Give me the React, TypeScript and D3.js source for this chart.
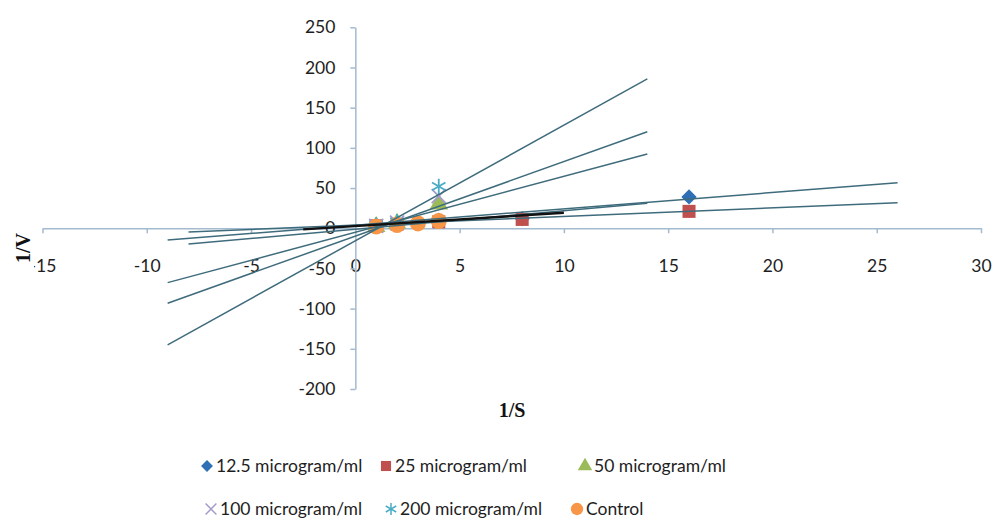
import React, { useEffect, useRef } from "react";
import * as d3 from "d3";

// series (1/S, 1/V)
const seriesNames = ["12.5 microgram/ml", "25 microgram/ml", "50 microgram/ml", "100 microgram/ml", "200 microgram/ml", "Control"];
const s12X = [1, 2, 4, 8, 16];
const s12Y = [4, 6, 10, 12, 39];
const s25X = [1, 2, 4, 8, 16];
const s25Y = [3, 5, 8, 11, 21];
const s50X = [1, 2, 4];
const s50Y = [2, 6, 30];
const s100X = [1, 2, 4];
const s100Y = [3, 7, 40];
const s200X = [1, 2, 4];
const s200Y = [4, 8, 52];
const ctrlX = [1, 2, 3, 4];
const ctrlY = [2, 4, 6, 9];

// trendlines: slope, intercept, forecast range
const trendSlope = [2.04, 1.07, 6.96, 9.27, 14.38, 2.3, 1.66];
const trendIntercept = [3.7, 3.9, -5.0, -9.8, -15.6, -1.2, 2.7];
const trendFrom = [-9, -8, -9, -9, -9, -8, -2.5];
const trendTo = [26, 26, 14, 14, 14, 14, 10];

const xTicks = [-15, -10, -5, 0, 5, 10, 15, 20, 25, 30];
const yTicks = [-200, -150, -100, -50, 0, 50, 100, 150, 200, 250];

const colors = ["#2f6fb5", "#c0504d", "#9bbb59", "#a39bc9", "#4bacc6", "#f79646"];
const trendColors = ["#3f6c7c", "#3f6c7c", "#3f6c7c", "#3f6c7c", "#3f6c7c", "#3f6c7c", "#111"];
const symbols = [d3.symbolDiamond2, d3.symbolSquare, d3.symbolTriangle, d3.symbolTimes, d3.symbolAsterisk, d3.symbolCircle];
const symSize = [150, 170, 150, 130, 170, 200];
const strokeSym = [false, false, false, true, true, false];

const font = "Lato, 'Open Sans', sans-serif";

const App = () => {
  const svgRef = useRef<SVGSVGElement>(null);

  useEffect(() => {
    const svg = d3.select(svgRef.current);
    svg.selectAll("*").remove();

    const x = d3.scaleLinear().domain([-15, 30]).range([42.5, 981]);
    const y = d3.scaleLinear().domain([-200, 250]).range([389, 27.3]);

    // x axis through y=0
    const xAxis = d3.axisBottom(x).tickValues(xTicks).tickSize(5).tickSizeOuter(0).tickFormat(d => String(d));
    const gx = svg.append("g").attr("transform", `translate(0,${y(0)})`).call(xAxis);
    gx.select(".domain").attr("stroke", "#a3bad0").attr("stroke-width", 1.5);
    gx.selectAll(".tick line").attr("stroke", "#a3bad0").attr("stroke-width", 1.5);
    gx.selectAll(".tick text")
      .attr("y", 38).attr("dy", "0.35em")
      .attr("font-size", 17.5).attr("font-family", font).attr("fill", "#1e1e1e");

    // y axis through x=0
    const yAxis = d3.axisLeft(y).tickValues(yTicks).tickSize(5).tickSizeOuter(0).tickPadding(15).tickFormat(d => String(d));
    const gy = svg.append("g").attr("transform", `translate(${x(0)},0)`).call(yAxis);
    gy.select(".domain").attr("stroke", "#a3bad0").attr("stroke-width", 1.5);
    gy.selectAll(".tick line").attr("stroke", "#a3bad0").attr("stroke-width", 1.5);
    gy.selectAll(".tick text")
      .attr("font-size", 17.5).attr("font-family", font).attr("fill", "#1e1e1e");

    // markers
    const allX = [s12X, s25X, s50X, s100X, s200X, ctrlX];
    const allY = [s12Y, s25Y, s50Y, s100Y, s200Y, ctrlY];
    const sym = d3.symbol();
    allX.forEach((xs, i) => {
      svg.append("g")
        .selectAll("path")
        .data(xs.map((v, j) => [v, allY[i][j]]))
        .enter()
        .append("path")
        .attr("d", sym.type(symbols[i]).size(symSize[i])())
        .attr("transform", d => `translate(${x(d[0])},${y(d[1])})`)
        .attr("fill", strokeSym[i] ? "none" : colors[i])
        .attr("stroke", strokeSym[i] ? colors[i] : "none")
        .attr("stroke-width", 1.8);
    });

    // trendlines
    const line = d3.line<number>().x(d => x(d[0])).y(d => y(d[1]));
    trendSlope.forEach((m, i) => {
      const pts: any = [trendFrom[i], trendTo[i]].map(v => [v, m * v + trendIntercept[i]]);
      svg.append("path")
        .attr("d", line(pts))
        .attr("fill", "none")
        .attr("stroke", trendColors[i])
        .attr("stroke-width", i === 6 ? 2.4 : 1.5);
    });

    // axis titles
    svg.append("rect").attr("x", 12).attr("y", 228).attr("width", 22).attr("height", 40).attr("fill", "#fff");
    svg.append("text")
      .attr("transform", "translate(23,248) rotate(-90)")
      .attr("text-anchor", "middle").attr("dy", "0.35em")
      .attr("font-family", "'Liberation Serif', serif").attr("font-weight", "bold").attr("font-size", 20)
      .attr("fill", "#111").text("1/V");
    svg.append("text")
      .attr("x", 512).attr("y", 410)
      .attr("text-anchor", "middle").attr("dy", "0.35em")
      .attr("font-family", "'Liberation Serif', serif").attr("font-weight", "bold").attr("font-size", 20)
      .attr("fill", "#111").text("1/S");

    // legend
    const legMarkX = [207, 386, 585, 211, 391, 577];
    const legRowY = [466, 466, 466, 509, 509, 509];
    seriesNames.forEach((name, i) => {
      svg.append("path")
        .attr("d", sym.type(symbols[i]).size(symSize[i] * 0.6)())
        .attr("transform", `translate(${legMarkX[i]},${legRowY[i]})`)
        .attr("fill", strokeSym[i] ? "none" : colors[i])
        .attr("stroke", strokeSym[i] ? colors[i] : "none")
        .attr("stroke-width", 1.5);
      svg.append("text")
        .attr("x", legMarkX[i] + 9).attr("y", legRowY[i]).attr("dy", "0.35em")
        .attr("font-family", font).attr("font-size", 17.5).attr("fill", "#1e1e1e")
        .text(name);
    });
  }, []);

  return (
    <svg ref={svgRef} width={992} height={521}
      style={{ position: "absolute", left: 0, top: 0, background: "#fff" }} />
  );
};

export default App;
